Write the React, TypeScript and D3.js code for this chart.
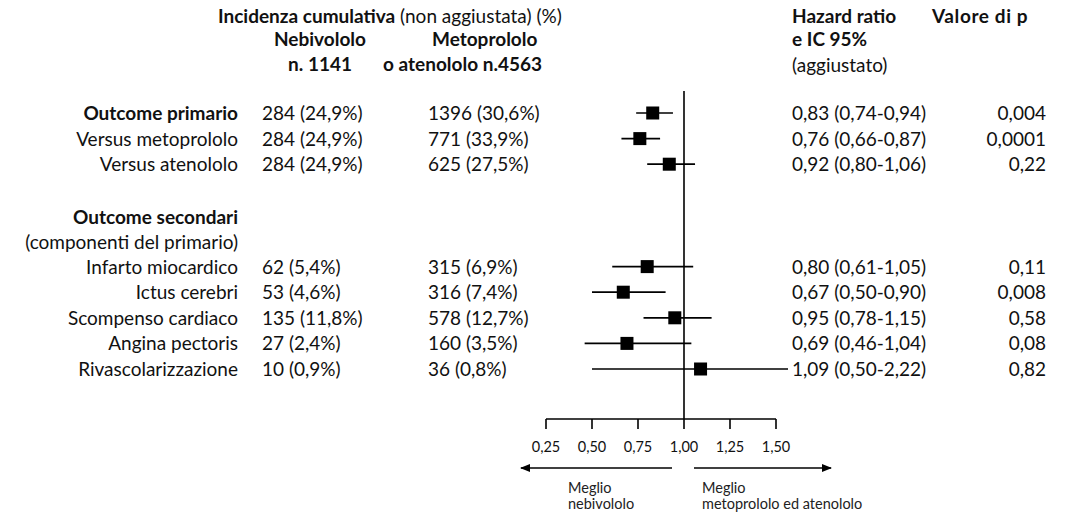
import React from "react";
import * as d3 from "d3";

const labels = [
  "Outcome primario",
  "Versus metoprololo",
  "Versus atenololo",
  "Infarto miocardico",
  "Ictus cerebri",
  "Scompenso cardiaco",
  "Angina pectoris",
  "Rivascolarizzazione",
];
const boldLabels = [true, false, false, false, false, false, false, false];
const rowSlots = [0, 1, 2, 6, 7, 8, 9, 10];
const nebivololo = ["284 (24,9%)", "284 (24,9%)", "284 (24,9%)", "62 (5,4%)", "53 (4,6%)", "135 (11,8%)", "27 (2,4%)", "10 (0,9%)"];
const metoAteno = ["1396 (30,6%)", "771 (33,9%)", "625 (27,5%)", "315 (6,9%)", "316 (7,4%)", "578 (12,7%)", "160 (3,5%)", "36 (0,8%)"];
const hr = [0.83, 0.76, 0.92, 0.8, 0.67, 0.95, 0.69, 1.09];
const ciLow = [0.74, 0.66, 0.8, 0.61, 0.5, 0.78, 0.46, 0.5];
const ciHigh = [0.94, 0.87, 1.06, 1.05, 0.9, 1.15, 1.04, 2.22];
const pValues = ["0,004", "0,0001", "0,22", "0,11", "0,008", "0,58", "0,08", "0,82"];
const ticks = [0.25, 0.5, 0.75, 1.0, 1.25, 1.5];

const fmt = (v: number) => v.toFixed(2).replace(".", ",");

export default function App() {
  const W = 1070;
  const H = 513;
  const font = "Lato, 'Noto Sans', sans-serif";
  const fs = 19;
  const dy = 7;
  const x = d3.scaleLinear().domain([0.25, 1.5]).range([546, 776]);
  const y = d3.scaleLinear().domain([0, 10]).range([113, 369]);
  const xMaxLine = 788;
  const axisY = 419;

  return (
    <svg
      width={W}
      height={H}
      style={{ position: "absolute", left: 0, top: 0, background: "#fff" }}
      fontFamily={font}
      fill="#111"
    >
      {/* Header */}
      <text x={218} y={23} fontSize={fs}>
        <tspan fontWeight="bold">Incidenza cumulativa</tspan>
        <tspan> (non aggiustata) (%)</tspan>
      </text>
      <text x={320} y={46} fontSize={fs} fontWeight="bold" textAnchor="middle">Nebivololo</text>
      <text x={320} y={71} fontSize={fs} fontWeight="bold" textAnchor="middle">n. 1141</text>
      <text x={432} y={46} fontSize={fs} fontWeight="bold">Metoprololo</text>
      <text x={383} y={71} fontSize={fs} fontWeight="bold">o atenololo n.4563</text>
      <text x={792} y={23} fontSize={fs} fontWeight="bold">Hazard ratio</text>
      <text x={792} y={46} fontSize={fs} fontWeight="bold">e IC 95%</text>
      <text x={792} y={72} fontSize={fs}>(aggiustato)</text>
      <text x={932} y={23} fontSize={fs} fontWeight="bold" letterSpacing={0.6}>Valore di p</text>

      {/* Section headers */}
      <text x={238} y={y(4.08) + dy} fontSize={fs} fontWeight="bold" textAnchor="end">Outcome secondari</text>
      <text x={238} y={y(5.05) + dy} fontSize={fs} textAnchor="end">(componenti del primario)</text>

      {/* Reference line at 1 */}
      <line x1={x(1)} x2={x(1)} y1={91} y2={axisY} stroke="#000" strokeWidth={1.6} />

      {labels.map((lab, i) => {
        const cy = y(rowSlots[i]);
        const hi = Math.min(x(ciHigh[i]), xMaxLine);
        return (
          <g key={lab}>
            <text x={238} y={cy + dy} fontSize={fs} fontWeight={boldLabels[i] ? "bold" : "normal"} textAnchor="end">{lab}</text>
            <text x={262} y={cy + dy} fontSize={fs}>{nebivololo[i]}</text>
            <text x={428} y={cy + dy} fontSize={fs}>{metoAteno[i]}</text>
            <line x1={x(ciLow[i])} x2={hi} y1={cy} y2={cy} stroke="#000" strokeWidth={1.7} />
            <rect x={x(hr[i]) - 6.5} y={cy - 6.5} width={13} height={13} fill="#000" />
            <text x={792} y={cy + dy} fontSize={fs}>{`${fmt(hr[i])} (${fmt(ciLow[i])}-${fmt(ciHigh[i])})`}</text>
            <text x={1046} y={cy + dy} fontSize={fs} textAnchor="end">{pValues[i]}</text>
          </g>
        );
      })}

      {/* Axis */}
      <line x1={x(0.25)} x2={x(1.5)} y1={axisY} y2={axisY} stroke="#000" strokeWidth={1.6} />
      {ticks.map((t) => (
        <g key={t}>
          <line x1={x(t)} x2={x(t)} y1={axisY} y2={axisY + 10} stroke="#000" strokeWidth={1.6} />
          <text x={x(t)} y={452} fontSize={14.5} textAnchor="middle">{fmt(t)}</text>
        </g>
      ))}

      {/* Arrows */}
      <defs>
        <marker id="arr" viewBox="0 0 10 10" refX="9" refY="5" markerWidth="8" markerHeight="8" orient="auto-start-reverse">
          <path d="M0,1 L10,5 L0,9 Z" fill="#000" />
        </marker>
      </defs>
      <line x1={672} x2={521} y1={468} y2={468} stroke="#000" strokeWidth={1.3} markerEnd="url(#arr)" />
      <line x1={694} x2={831} y1={468} y2={468} stroke="#000" strokeWidth={1.3} markerEnd="url(#arr)" />
      <text x={568} y={493} fontSize={14.5} fill="#222">Meglio</text>
      <text x={568} y={509} fontSize={14.5} fill="#222">nebivololo</text>
      <text x={702} y={493} fontSize={14.5} fill="#222">Meglio</text>
      <text x={702} y={509} fontSize={14.5} fill="#222">metoprololo ed atenololo</text>
    </svg>
  );
}
